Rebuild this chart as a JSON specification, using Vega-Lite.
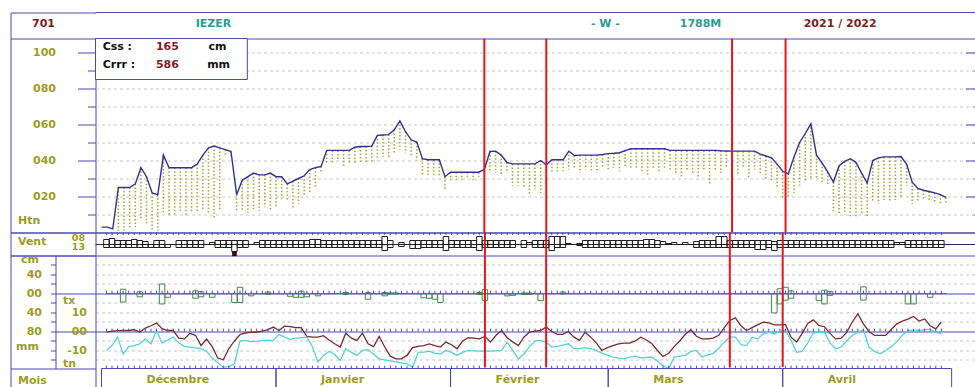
{
  "$schema": "https://vega.github.io/schema/vega-lite/v6.json",
  "background": "white",
  "padding": {"left": 9.5, "top": 11.5, "right": -1, "bottom": -1},
  "bounds": "flush",
  "spacing": 0,
  "config": {
    "font": "DejaVu Sans",
    "view": {"stroke": "#4848b8", "strokeWidth": 1},
    "axis": {
      "labelFont": "DejaVu Sans", "labelFontSize": 11, "labelFontWeight": "bold", "labelColor": "#9c9c24",
      "titleFont": "DejaVu Sans", "titleFontSize": 11, "titleFontWeight": "bold", "titleColor": "#9c9c24",
      "tickColor": "#4848b8", "domainColor": "#4848b8", "grid": false, "labelOverlap": false, "labelFlush": false
    }
  },
  "datasets": {
    "poste": [{"numero": "701", "nom": "IEZER", "exposition": "- W -", "altitude": "1788M", "saison": "2021 / 2022"}],
    "cumuls": [{"css": 165, "crrr": 586}],
    "evenements": [{"j": 68}, {"j": 79}, {"j": 112}, {"j": 121.5}],
    "mois": [
      {"mois": "Décembre", "debut": 0, "fin": 31},
      {"mois": "Janvier", "debut": 31, "fin": 62},
      {"mois": "Février", "debut": 62, "fin": 90},
      {"mois": "Mars", "debut": 90, "fin": 121},
      {"mois": "Avril", "debut": 121, "fin": 151}
    ],
    "jours": [
      {"j":0,"htn":3,"tx":-0.4,"tn":-10,"v08":5,"v13":3},
      {"j":1,"htn":3,"tx":0.2,"tn":-7.4,"v08":6,"v13":3},
      {"j":2,"htn":2,"tx":0.4,"tn":-3,"v08":4,"v13":3},
      {"j":3,"htn":25,"bas":1,"tx":0.5,"tn":-11.8,"v08":4,"v13":3,"hn":9,"rr":18},
      {"j":4,"htn":25,"bas":1,"tx":0.5,"tn":-8,"v08":4,"v13":3},
      {"j":5,"htn":25,"bas":2,"tx":0.9,"tn":-7.4,"v08":5,"v13":3},
      {"j":6,"htn":27,"bas":3,"tx":-0.3,"tn":-6.5,"v08":4,"v13":3,"hn":3.5,"rr":7},
      {"j":7,"htn":36,"bas":7,"tx":1.8,"tn":-3.9,"v08":3,"v13":3},
      {"j":8,"htn":31,"bas":5,"tx":3,"tn":-6.5,"v08":0,"v13":3},
      {"j":9,"htn":22,"bas":1,"tx":4.4,"tn":0.5,"v08":4,"v13":3},
      {"j":10,"htn":21,"bas":1,"tx":1.5,"tn":-6.1,"v08":4,"v13":3,"hn":20,"rr":22},
      {"j":11,"htn":43,"bas":11,"tx":0.5,"tn":-4.5,"v08":0,"v13":3,"hn":0,"rr":8},
      {"j":12,"htn":36,"bas":9,"tx":0.5,"tn":-3,"v08":0,"v13":0},
      {"j":13,"htn":36,"bas":10,"tx":-3.5,"tn":-6,"v08":4,"v13":3},
      {"j":14,"htn":36,"bas":12,"tx":-3.9,"tn":-7.8,"v08":4,"v13":3},
      {"j":15,"htn":36,"bas":9,"tx":-1,"tn":-8.2,"v08":4,"v13":3},
      {"j":16,"htn":36,"bas":11,"tx":-2,"tn":-8.6,"v08":4,"v13":3,"hn":5.5,"rr":10},
      {"j":17,"htn":38,"bas":12,"tx":-7.4,"tn":-9.1,"v08":4,"v13":3,"hn":3.5,"rr":7},
      {"j":18,"htn":43,"bas":13,"tx":-4,"tn":-10.5,"v08":0,"v13":0},
      {"j":19,"htn":47,"bas":11,"tx":-8,"tn":-14,"v08":2,"v13":0,"hn":0,"rr":8},
      {"j":20,"htn":48,"bas":8,"tx":-14,"tn":-16.5,"v08":4,"v13":3},
      {"j":21,"htn":47,"bas":12,"tx":-14.9,"tn":-18.8,"v08":4,"v13":3},
      {"j":22,"htn":46,"bas":42,"tx":-9,"tn":-18.5,"v08":4,"v13":3},
      {"j":23,"htn":45,"bas":42,"tx":-5,"tn":-17,"v08":4,"v13":7,"hn":0,"rr":19,"rafale":1},
      {"j":24,"htn":21,"bas":12,"tx":-1.6,"tn":-5,"v08":4,"v13":3,"hn":13,"rr":19},
      {"j":25,"htn":29,"bas":12,"tx":-0.8,"tn":-4.7,"v08":4,"v13":3},
      {"j":26,"htn":31,"bas":11,"tx":-0.4,"tn":-5.3,"v08":0,"v13":0,"hn":0,"rr":5},
      {"j":27,"htn":33,"bas":13,"tx":-0.4,"tn":-5.2,"v08":2,"v13":0},
      {"j":28,"htn":32,"bas":12,"tx":0.2,"tn":-4.7,"v08":4,"v13":3},
      {"j":29,"htn":32,"bas":14,"tx":1,"tn":-4.7,"v08":4,"v13":3,"hn":3,"rr":2},
      {"j":30,"htn":33,"bas":12,"tx":2.3,"tn":-4.7,"v08":4,"v13":3},
      {"j":31,"htn":31,"bas":14,"tx":0.5,"tn":-1.6,"v08":4,"v13":3},
      {"j":32,"htn":31,"bas":18,"tx":2.8,"tn":-3,"v08":4,"v13":3},
      {"j":33,"htn":27,"bas":18,"tx":2.5,"tn":-4.2,"v08":4,"v13":3,"hn":0,"rr":6},
      {"j":34,"htn":28.5,"bas":14,"tx":2,"tn":-3.5,"v08":4,"v13":3,"hn":0,"rr":8},
      {"j":35,"htn":30,"bas":16,"tx":2,"tn":-3.3,"v08":4,"v13":3,"hn":5,"rr":8},
      {"j":36,"htn":31.5,"bas":20,"tx":-2.6,"tn":-3,"v08":4,"v13":3,"hn":0,"rr":7},
      {"j":37,"htn":35,"bas":22,"tx":-3,"tn":-8,"v08":5,"v13":3},
      {"j":38,"htn":36,"bas":25,"tx":-3,"tn":-16.1,"v08":5,"v13":3,"hn":0,"rr":5},
      {"j":39,"htn":36.7,"bas":33,"tx":-2.2,"tn":-12.6,"v08":4,"v13":3},
      {"j":40,"htn":45.6,"bas":38,"tx":-4.5,"tn":-10.5,"v08":4,"v13":3},
      {"j":41,"htn":45.6,"bas":38,"tx":-6.5,"tn":-12,"v08":4,"v13":3},
      {"j":42,"htn":45.6,"bas":40,"tx":-8.2,"tn":-15.3,"v08":4,"v13":3},
      {"j":43,"htn":45.6,"bas":37,"tx":-0.9,"tn":-9.1,"v08":4,"v13":3,"hn":2,"rr":2},
      {"j":44,"htn":45.6,"bas":38,"tx":-3.5,"tn":-11,"v08":4,"v13":3},
      {"j":45,"htn":47.4,"bas":38,"tx":-4.7,"tn":-12.6,"v08":4,"v13":3},
      {"j":46,"htn":47.8,"bas":39,"tx":-0.9,"tn":-10,"v08":4,"v13":3},
      {"j":47,"htn":47.8,"bas":38,"tx":-6.5,"tn":-9.6,"v08":4,"v13":3,"hn":2,"rr":12},
      {"j":48,"htn":48,"bas":39,"tx":-8,"tn":-12,"v08":4,"v13":3},
      {"j":49,"htn":54,"bas":40,"tx":-2.6,"tn":-14.4,"v08":4,"v13":3},
      {"j":50,"htn":54.2,"bas":42,"tx":-8.2,"tn":-15,"v08":8,"v13":6,"hn":2,"rr":5},
      {"j":51,"htn":54.4,"bas":41,"tx":-13,"tn":-15.5,"v08":4,"v13":3,"hn":1,"rr":1},
      {"j":52,"htn":57,"bas":44,"tx":-14.4,"tn":-16,"v08":0,"v13":0,"hn":1,"rr":1},
      {"j":53,"htn":62,"bas":46,"tx":-14.4,"tn":-16.5,"v08":2,"v13":2},
      {"j":54,"htn":56,"bas":44,"tx":-12.6,"tn":-17,"v08":0,"v13":0},
      {"j":55,"htn":51.5,"bas":42,"tx":-8.5,"tn":-18.8,"v08":4,"v13":4},
      {"j":56,"htn":50.2,"bas":40,"tx":-7.8,"tn":-11,"v08":4,"v13":4},
      {"j":57,"htn":41,"bas":32,"tx":-7.4,"tn":-10.9,"v08":4,"v13":3,"hn":0,"rr":9},
      {"j":58,"htn":40.4,"bas":32,"tx":-6.5,"tn":-10.4,"v08":4,"v13":3,"hn":0,"rr":10},
      {"j":59,"htn":40.4,"bas":31,"tx":-7.5,"tn":-11.5,"v08":4,"v13":3,"hn":0,"rr":12},
      {"j":60,"htn":40.4,"bas":31,"tx":-8.2,"tn":-11.8,"v08":4,"v13":3,"hn":0,"rr":19},
      {"j":61,"htn":31,"bas":24,"tx":-5.6,"tn":-10,"v08":8,"v13":6},
      {"j":62,"htn":33.5,"bas":29,"tx":-7,"tn":-11,"v08":4,"v13":3},
      {"j":63,"htn":33.5,"bas":29,"tx":-9.1,"tn":-12.6,"v08":4,"v13":3},
      {"j":64,"htn":33.5,"bas":29,"tx":-5,"tn":-11,"v08":4,"v13":3},
      {"j":65,"htn":33.5,"bas":30,"tx":-3.3,"tn":-10,"v08":4,"v13":3},
      {"j":66,"htn":33.5,"bas":29,"tx":-3.5,"tn":-10.2,"v08":4,"v13":3},
      {"j":67,"htn":33.5,"bas":31,"tx":-3.9,"tn":-10.4,"v08":8,"v13":6,"hn":2,"rr":2},
      {"j":68,"htn":35,"bas":31,"tx":-2.6,"tn":-10.4,"v08":4,"v13":3,"hn":8,"rr":15},
      {"j":69,"htn":45,"bas":33,"tx":-5.6,"tn":-10.4,"v08":4,"v13":3},
      {"j":70,"htn":45.2,"bas":33,"tx":-2,"tn":-10.2,"v08":4,"v13":3},
      {"j":71,"htn":43,"bas":32,"tx":0.5,"tn":-10,"v08":4,"v13":3},
      {"j":72,"htn":39,"bas":33,"tx":-3.3,"tn":-5.6,"v08":4,"v13":3,"hn":0,"rr":5},
      {"j":73,"htn":38.1,"bas":26,"tx":-5.5,"tn":-10,"v08":4,"v13":3,"hn":0,"rr":4},
      {"j":74,"htn":38.1,"bas":26,"tx":-7.4,"tn":-14.4,"v08":0,"v13":0},
      {"j":75,"htn":38.1,"bas":25,"tx":-3,"tn":-12,"v08":4,"v13":3,"hn":1,"rr":2},
      {"j":76,"htn":38.1,"bas":21,"tx":-0.4,"tn":-8,"v08":2,"v13":0,"hn":1,"rr":2},
      {"j":77,"htn":38.1,"bas":24,"tx":0.2,"tn":-5,"v08":4,"v13":3},
      {"j":78,"htn":40,"bas":22,"tx":0.5,"tn":-4.7,"v08":4,"v13":3,"hn":0,"rr":15},
      {"j":79,"htn":37.6,"bas":26,"tx":2.3,"tn":-5.6,"v08":4,"v13":3},
      {"j":80,"htn":40.4,"bas":33,"tx":0,"tn":-8.2,"v08":8,"v13":6},
      {"j":81,"htn":40.4,"bas":33,"tx":-1.5,"tn":-7.8,"v08":8,"v13":3},
      {"j":82,"htn":40.4,"bas":34,"tx":-1.5,"tn":-7.2,"v08":8,"v13":3,"hn":3,"rr":1},
      {"j":83,"htn":45.2,"bas":35,"tx":0,"tn":-6.5,"v08":1,"v13":0},
      {"j":84,"htn":42.8,"bas":36,"tx":-3,"tn":-9,"v08":0,"v13":0},
      {"j":85,"htn":43,"bas":33,"tx":-4.7,"tn":-9,"v08":1,"v13":1},
      {"j":86,"htn":43,"bas":35,"tx":-0.4,"tn":-8.5,"v08":4,"v13":3},
      {"j":87,"htn":43,"bas":34,"tx":-3,"tn":-9.1,"v08":4,"v13":3},
      {"j":88,"htn":43,"bas":33,"tx":-6,"tn":-10,"v08":4,"v13":3},
      {"j":89,"htn":43.3,"bas":36,"tx":-10,"tn":-11.4,"v08":4,"v13":3},
      {"j":90,"htn":43.8,"bas":35,"tx":-8.5,"tn":-12.5,"v08":4,"v13":3},
      {"j":91,"htn":44,"bas":36,"tx":-7.4,"tn":-13.5,"v08":4,"v13":3},
      {"j":92,"htn":44.3,"bas":34,"tx":-6.5,"tn":-14,"v08":4,"v13":3},
      {"j":93,"htn":45.5,"bas":37,"tx":-6.1,"tn":-14.4,"v08":4,"v13":3},
      {"j":94,"htn":46.5,"bas":36,"tx":-6.1,"tn":-13.5,"v08":4,"v13":3},
      {"j":95,"htn":46.5,"bas":35,"tx":-5,"tn":-13,"v08":4,"v13":3},
      {"j":96,"htn":46.5,"bas":34,"tx":-3,"tn":-13.9,"v08":4,"v13":3},
      {"j":97,"htn":46.5,"bas":32,"tx":-4.5,"tn":-13.7,"v08":5,"v13":3},
      {"j":98,"htn":46.5,"bas":36,"tx":-6.5,"tn":-13.5,"v08":5,"v13":3},
      {"j":99,"htn":46.5,"bas":33,"tx":-10,"tn":-15.5,"v08":4,"v13":3},
      {"j":100,"htn":46.5,"bas":35,"tx":-13.2,"tn":-18,"v08":3,"v13":0},
      {"j":101,"htn":45.6,"bas":34,"tx":-11.5,"tn":-19.5,"v08":1,"v13":0},
      {"j":102,"htn":45.6,"bas":32,"tx":-8,"tn":-13.5,"v08":2,"v13":0},
      {"j":103,"htn":45.6,"bas":31,"tx":-5,"tn":-13,"v08":0,"v13":0},
      {"j":104,"htn":45.6,"bas":35,"tx":-1.5,"tn":-12.6,"v08":2,"v13":0},
      {"j":105,"htn":45.6,"bas":33,"tx":0.9,"tn":-10.5,"v08":0,"v13":0},
      {"j":106,"htn":45.6,"bas":30,"tx":-2.5,"tn":-10,"v08":3,"v13":3},
      {"j":107,"htn":45.6,"bas":34,"tx":-3.9,"tn":-13.5,"v08":4,"v13":3},
      {"j":108,"htn":45.6,"bas":27,"tx":-3.9,"tn":-12.5,"v08":4,"v13":3},
      {"j":109,"htn":45.6,"bas":35,"tx":-3.5,"tn":-11.5,"v08":4,"v13":3},
      {"j":110,"htn":45.4,"bas":33,"tx":-2,"tn":-9,"v08":8,"v13":3},
      {"j":111,"htn":45.3,"bas":36,"tx":2,"tn":-5.5,"v08":8,"v13":3},
      {"j":112,"htn":45.2,"bas":24,"tx":5.8,"tn":-3,"v08":4,"v13":3},
      {"j":113,"htn":45.2,"bas":32,"tx":7.2,"tn":-3,"v08":4,"v13":3},
      {"j":114,"htn":45.2,"bas":36,"tx":3,"tn":-7,"v08":4,"v13":3},
      {"j":115,"htn":45.2,"bas":30,"tx":0.5,"tn":-7.4,"v08":4,"v13":3},
      {"j":116,"htn":45.2,"bas":35,"tx":2,"tn":-3,"v08":4,"v13":3},
      {"j":117,"htn":43.5,"bas":33,"tx":3.5,"tn":-3.9,"v08":4,"v13":5},
      {"j":118,"htn":42.5,"bas":30,"tx":4.9,"tn":-1.3,"v08":4,"v13":5},
      {"j":119,"htn":41.5,"bas":29,"tx":4.5,"tn":-0.4,"v08":4,"v13":3},
      {"j":120,"htn":38,"bas":25,"tx":3.5,"tn":-1.3,"v08":3,"v13":6,"hn":0,"rr":41},
      {"j":121,"htn":34,"bas":19,"tx":3.5,"tn":0,"v08":4,"v13":3,"hn":10,"rr":22},
      {"j":122,"htn":32.6,"bas":20,"tx":3.7,"tn":0.5,"v08":4,"v13":3,"hn":13,"rr":14},
      {"j":123,"htn":42,"bas":22,"tx":-3,"tn":-4.7,"v08":4,"v13":3,"hn":5.5,"rr":10},
      {"j":124,"htn":50,"bas":26,"tx":-5.6,"tn":-11,"v08":4,"v13":3},
      {"j":125,"htn":55,"bas":29,"tx":-1,"tn":-10.5,"v08":4,"v13":3},
      {"j":126,"htn":60.4,"bas":30,"tx":4.2,"tn":-6,"v08":4,"v13":3},
      {"j":127,"htn":43,"bas":30,"tx":6.1,"tn":-0.8,"v08":4,"v13":3},
      {"j":128,"htn":38.5,"bas":28,"tx":3.2,"tn":-0.4,"v08":4,"v13":3,"hn":0,"rr":15},
      {"j":129,"htn":33.5,"bas":27,"tx":2.5,"tn":-0.4,"v08":4,"v13":3,"hn":7,"rr":22},
      {"j":130,"htn":28,"bas":12,"tx":-1,"tn":-6,"v08":4,"v13":3,"hn":4,"rr":4},
      {"j":131,"htn":37,"bas":10,"tx":-3.9,"tn":-9.1,"v08":4,"v13":3},
      {"j":132,"htn":39.5,"bas":10,"tx":-3.5,"tn":-8.2,"v08":4,"v13":3},
      {"j":133,"htn":41,"bas":8,"tx":-0.5,"tn":-5,"v08":4,"v13":3},
      {"j":134,"htn":39,"bas":9,"tx":5,"tn":-2,"v08":4,"v13":3},
      {"j":135,"htn":33,"bas":10,"tx":9.3,"tn":-0.5,"v08":4,"v13":3},
      {"j":136,"htn":27.5,"bas":8,"tx":4,"tn":0.9,"v08":4,"v13":3,"hn":14,"rr":14},
      {"j":137,"htn":40,"bas":17,"tx":0,"tn":-8.2,"v08":4,"v13":3},
      {"j":138,"htn":41.5,"bas":16,"tx":-2.1,"tn":-10.5,"v08":4,"v13":3},
      {"j":139,"htn":42,"bas":18,"tx":-2.1,"tn":-11.8,"v08":4,"v13":3},
      {"j":140,"htn":42,"bas":17,"tx":-2.1,"tn":-10,"v08":4,"v13":3},
      {"j":141,"htn":42,"bas":18,"tx":1,"tn":-8,"v08":4,"v13":3},
      {"j":142,"htn":42.2,"bas":20,"tx":4,"tn":-5.5,"v08":2,"v13":0},
      {"j":143,"htn":38,"bas":26,"tx":5.5,"tn":-2,"v08":2,"v13":0},
      {"j":144,"htn":28,"bas":16,"tx":6.5,"tn":0.5,"v08":4,"v13":3,"hn":0,"rr":22},
      {"j":145,"htn":24.5,"bas":17,"tx":7.9,"tn":0.5,"v08":4,"v13":3,"hn":0,"rr":22},
      {"j":146,"htn":23.5,"bas":18,"tx":5.5,"tn":0.5,"v08":4,"v13":3},
      {"j":147,"htn":22.8,"bas":17,"tx":6.6,"tn":1,"v08":4,"v13":3},
      {"j":148,"htn":22,"bas":16,"tx":3,"tn":1.2,"v08":4,"v13":3,"hn":0,"rr":8},
      {"j":149,"htn":21,"bas":16,"tx":1.4,"tn":-0.4,"v08":4,"v13":3},
      {"j":150,"htn":19.5,"bas":16,"tx":5,"tn":-1.3,"v08":4,"v13":3}
    ]
  },
  "resolve": {"scale": {"x": "independent", "y": "independent"}},
  "vconcat": [
    {
      "width": 880, "height": 26,
      "data": {"name": "poste"},
      "view": {"stroke": null},
      "resolve": {"axis": {"y": "independent"}},
      "layer": [
        {
          "data": {"values": [{}]},
          "mark": {"type": "rule", "color": "#4848b8"},
          "encoding": {
            "y": {"datum": 1, "type": "quantitative", "scale": {"domain": [-1, 1], "nice": false},
                  "axis": {"orient": "left", "values": [1], "domain": false, "ticks": true, "tickSize": 85, "labels": false, "title": null}}
          }
        },
        {
          "mark": {"type": "text", "fontWeight": "bold", "fontSize": 11, "color": "#7a1e1e"},
          "encoding": {
            "x": {"datum": -10.3, "type": "quantitative", "scale": {"domain": [-1.066, 155.24], "nice": false, "zero": false}, "axis": null},
            "y": {"datum": 0.15, "type": "quantitative", "scale": {"domain": [-1, 1], "nice": false},
                  "axis": {"orient": "left", "offset": 85, "domain": true, "ticks": false, "labels": false, "title": null}},
            "text": {"field": "numero"}
          }
        },
        {
          "mark": {"type": "text", "fontWeight": "bold", "fontSize": 11, "color": "#2a9d8f"},
          "encoding": {
            "x": {"datum": 19.9, "type": "quantitative", "scale": {"domain": [-1.066, 155.24], "nice": false, "zero": false}, "axis": null},
            "y": {"datum": 0.15, "type": "quantitative", "scale": {"domain": [-1, 1], "nice": false}, "axis": null},
            "text": {"field": "nom"}
          }
        },
        {
          "mark": {"type": "text", "fontWeight": "bold", "fontSize": 11, "color": "#2a9d8f"},
          "encoding": {
            "x": {"datum": 89.5, "type": "quantitative", "scale": {"domain": [-1.066, 155.24], "nice": false, "zero": false}, "axis": null},
            "y": {"datum": 0.15, "type": "quantitative", "scale": {"domain": [-1, 1], "nice": false}, "axis": null},
            "text": {"field": "exposition"}
          }
        },
        {
          "mark": {"type": "text", "fontWeight": "bold", "fontSize": 11, "color": "#2a9d8f"},
          "encoding": {
            "x": {"datum": 106.4, "type": "quantitative", "scale": {"domain": [-1.066, 155.24], "nice": false, "zero": false}, "axis": null},
            "y": {"datum": 0.15, "type": "quantitative", "scale": {"domain": [-1, 1], "nice": false}, "axis": null},
            "text": {"field": "altitude"}
          }
        },
        {
          "mark": {"type": "text", "fontWeight": "bold", "fontSize": 11, "color": "#7a1e1e"},
          "encoding": {
            "x": {"datum": 131.2, "type": "quantitative", "scale": {"domain": [-1.066, 155.24], "nice": false, "zero": false}, "axis": null},
            "y": {"datum": 0.15, "type": "quantitative", "scale": {"domain": [-1, 1], "nice": false}, "axis": null},
            "text": {"field": "saison"}
          }
        }
      ]
    },
    {
      "width": 880, "height": 194,
      "data": {"name": "jours"},
      "resolve": {"axis": {"y": "independent"}},
      "layer": [
        {
          "transform": [{"filter": "isValid(datum.bas)"}],
          "mark": {"type": "rule", "color": "#a8a83a", "strokeWidth": 1.6, "strokeDash": [1.5, 2]},
          "encoding": {
            "x": {"field": "j", "type": "quantitative", "scale": {"domain": [-1.066, 155.24], "nice": false, "zero": false}, "axis": null},
            "y": {"field": "htn", "type": "quantitative", "scale": {"domain": [0, 107.78], "nice": false, "zero": false},
                  "axis": {"orient": "left", "offset": 85, "domain": true, "ticks": false, "labels": false, "title": null}},
            "y2": {"field": "bas"}
          }
        },
        {
          "mark": {"type": "line", "color": "#30309a", "strokeWidth": 1.4},
          "encoding": {
            "x": {"field": "j", "type": "quantitative", "scale": {"domain": [-1.066, 155.24], "nice": false, "zero": false}, "axis": null},
            "y": {"field": "htn", "type": "quantitative", "scale": {"domain": [0, 107.78], "nice": false, "zero": false},
                  "axis": {
                    "orient": "left", "values": [0, 10, 20, 30, 40, 50, 60, 70, 80, 90, 100, 107.78],
                    "domain": false, "ticks": true,
                    "tickSize": {"condition": [{"test": "datum.value == 0 || datum.value > 101", "value": 85}, {"test": "datum.value % 20 == 0", "value": 18}], "value": 8},
                    "labelExpr": "datum.value == 100 ? '100' : (datum.value > 0 && datum.value < 100 && datum.value % 20 == 0 ? '0' + datum.value : '')",
                    "labelPadding": {"condition": [{"test": "datum.value == 0 || datum.value > 101", "value": -80}, {"test": "datum.value % 20 != 0", "value": 32}], "value": 22},
                    "grid": true, "gridColor": "#c6c6c6", "gridDash": [3, 3],
                    "gridOpacity": {"condition": {"test": "datum.value == 0 || datum.value > 101", "value": 0}, "value": 1},
                    "title": "Htn", "titleAngle": 0, "titleAlign": "left", "titleBaseline": "middle", "titleX": -78, "titleY": 182
                  }}
          }
        },
        {
          "data": {"name": "cumuls"},
          "mark": {"type": "rect", "fill": "white", "stroke": "#4848b8", "strokeWidth": 1},
          "encoding": {
            "x": {"datum": -1.066, "type": "quantitative", "scale": {"domain": [-1.066, 155.24], "nice": false, "zero": false}, "axis": null},
            "x2": {"datum": 25.9},
            "y": {"datum": 107.78, "type": "quantitative", "scale": {"domain": [0, 107.78], "nice": false, "zero": false},
                  "axis": {"orient": "right", "values": [10, 20, 30, 40, 50, 60, 70, 80, 90, 100], "domain": false, "labels": false, "ticks": true,
                           "tickSize": {"condition": {"test": "datum.value % 20 == 0", "value": -10}, "value": -2}, "title": null}},
            "y2": {"datum": 85}
          }
        },
        {
          "data": {"name": "cumuls"},
          "mark": {"type": "text", "align": "left", "fontWeight": "bold", "fontSize": 11, "color": "#111111", "text": "Css :"},
          "encoding": {
            "x": {"datum": 0.2, "type": "quantitative", "scale": {"domain": [-1.066, 155.24], "nice": false, "zero": false}, "axis": null},
            "y": {"datum": 102.8, "type": "quantitative", "scale": {"domain": [0, 107.78], "nice": false, "zero": false}, "axis": null}
          }
        },
        {
          "data": {"name": "cumuls"},
          "mark": {"type": "text", "fontWeight": "bold", "fontSize": 11, "color": "#7a1e1e"},
          "encoding": {
            "x": {"datum": 11.7, "type": "quantitative", "scale": {"domain": [-1.066, 155.24], "nice": false, "zero": false}, "axis": null},
            "y": {"datum": 102.8, "type": "quantitative", "scale": {"domain": [0, 107.78], "nice": false, "zero": false}, "axis": null},
            "text": {"field": "css"}
          }
        },
        {
          "data": {"name": "cumuls"},
          "mark": {"type": "text", "fontWeight": "bold", "fontSize": 11, "color": "#111111", "text": "cm"},
          "encoding": {
            "x": {"datum": 20.6, "type": "quantitative", "scale": {"domain": [-1.066, 155.24], "nice": false, "zero": false}, "axis": null},
            "y": {"datum": 102.8, "type": "quantitative", "scale": {"domain": [0, 107.78], "nice": false, "zero": false}, "axis": null}
          }
        },
        {
          "data": {"name": "cumuls"},
          "mark": {"type": "text", "align": "left", "fontWeight": "bold", "fontSize": 11, "color": "#111111", "text": "Crrr :"},
          "encoding": {
            "x": {"datum": 0.2, "type": "quantitative", "scale": {"domain": [-1.066, 155.24], "nice": false, "zero": false}, "axis": null},
            "y": {"datum": 92.8, "type": "quantitative", "scale": {"domain": [0, 107.78], "nice": false, "zero": false}, "axis": null}
          }
        },
        {
          "data": {"name": "cumuls"},
          "mark": {"type": "text", "fontWeight": "bold", "fontSize": 11, "color": "#7a1e1e"},
          "encoding": {
            "x": {"datum": 11.7, "type": "quantitative", "scale": {"domain": [-1.066, 155.24], "nice": false, "zero": false}, "axis": null},
            "y": {"datum": 92.8, "type": "quantitative", "scale": {"domain": [0, 107.78], "nice": false, "zero": false}, "axis": null},
            "text": {"field": "crrr"}
          }
        },
        {
          "data": {"name": "cumuls"},
          "mark": {"type": "text", "fontWeight": "bold", "fontSize": 11, "color": "#111111", "text": "mm"},
          "encoding": {
            "x": {"datum": 20.8, "type": "quantitative", "scale": {"domain": [-1.066, 155.24], "nice": false, "zero": false}, "axis": null},
            "y": {"datum": 92.8, "type": "quantitative", "scale": {"domain": [0, 107.78], "nice": false, "zero": false}, "axis": null}
          }
        },
        {
          "data": {"name": "evenements"},
          "mark": {"type": "rule", "color": "#e8141a", "strokeWidth": 2},
          "encoding": {
            "x": {"field": "j", "type": "quantitative", "scale": {"domain": [-1.066, 155.24], "nice": false, "zero": false}, "axis": null}
          }
        }
      ]
    },
    {
      "width": 880, "height": 23,
      "data": {"name": "jours"},
      "resolve": {"scale": {"y": "independent"}},
      "layer": [
        {
          "data": {"values": [{}]},
          "mark": {"type": "rule", "color": "#2c2c5c"},
          "encoding": {
            "y": {"datum": 0, "type": "quantitative", "scale": {"domain": [-11, 12], "nice": false, "zero": false},
                  "axis": {
                    "orient": "left", "values": [12, 7.3, -2.3, -11], "domain": false, "ticks": true,
                    "tickSize": {"condition": {"test": "datum.value == 12 || datum.value == -11", "value": 85}, "value": 0},
                    "labelExpr": "datum.value == 7.3 ? '08' : (datum.value == -2.3 ? '13' : '')",
                    "labelFontSize": 9.5,
                    "labelPadding": {"condition": {"test": "datum.value == 12 || datum.value == -11", "value": -80}, "value": 11},
                    "title": "Vent", "titleAngle": 0, "titleAlign": "left", "titleBaseline": "middle", "titleX": -78, "titleY": 9
                  }}
          }
        },
        {
          "mark": {"type": "bar", "orient": "vertical", "width": 5.5, "fill": "transparent", "stroke": "#1e1e1e", "strokeWidth": 1},
          "encoding": {
            "x": {"field": "j", "type": "quantitative", "scale": {"domain": [-1.066, 155.24], "nice": false, "zero": false}, "axis": null},
            "y": {"field": "v08", "type": "quantitative", "scale": {"domain": [-11, 12], "nice": false},
                  "axis": {"orient": "left", "offset": 85, "domain": true, "ticks": false, "labels": false, "title": null}}
          }
        },
        {
          "mark": {"type": "bar", "orient": "vertical", "width": 5.5, "fill": "transparent", "stroke": "#1e1e1e", "strokeWidth": 1},
          "encoding": {
            "x": {"field": "j", "type": "quantitative", "scale": {"domain": [-1.066, 155.24], "nice": false, "zero": false}, "axis": null},
            "y": {"field": "v13", "type": "quantitative", "scale": {"domain": [-12, 11], "nice": false, "reverse": true}, "axis": null}
          }
        },
        {
          "mark": {"type": "rule", "color": "#4848b8"},
          "encoding": {
            "x": {"field": "j", "type": "quantitative", "scale": {"domain": [-1.066, 155.24], "nice": false, "zero": false}, "axis": null},
            "y": {"datum": 12, "type": "quantitative", "scale": {"domain": [-11, 12], "nice": false, "zero": false}, "axis": null},
            "y2": {"datum": 9.5}
          }
        },
        {
          "transform": [{"filter": "datum.rafale == 1"}],
          "mark": {"type": "square", "size": 22, "filled": true, "color": "#3a0c0c", "opacity": 1},
          "encoding": {
            "x": {"field": "j", "type": "quantitative", "scale": {"domain": [-1.066, 155.24], "nice": false, "zero": false}, "axis": null},
            "y": {"datum": -9.3, "type": "quantitative", "scale": {"domain": [-11, 12], "nice": false, "zero": false}, "axis": null}
          }
        },
        {
          "data": {"name": "evenements"},
          "mark": {"type": "rule", "color": "#e8141a", "strokeWidth": 2},
          "encoding": {
            "x": {"field": "j", "type": "quantitative", "scale": {"domain": [-1.066, 155.24], "nice": false, "zero": false}, "axis": null}
          }
        }
      ]
    },
    {
      "width": 880, "height": 113,
      "data": {"name": "jours"},
      "view": {"stroke": null},
      "resolve": {"scale": {"y": "independent"}},
      "layer": [
        {
          "mark": {"type": "line", "color": "#7d2a2a", "strokeWidth": 1.3},
          "encoding": {
            "x": {"field": "j", "type": "quantitative", "scale": {"domain": [-1.066, 155.24], "nice": false, "zero": false}, "axis": null},
            "y": {"field": "tx", "type": "quantitative", "scale": {"domain": [-19.5, 40], "nice": false, "zero": false},
                  "axis": {
                    "orient": "left", "values": [-19.5, -15, -10, -5, 0, 5, 10, 15, 20, 25, 30, 35, 40, 16.3, -16.7],
                    "domain": true, "ticks": true,
                    "tickSize": {"condition": {"test": "datum.value == 40 || datum.value == -19.5 || datum.value == 0 || datum.value == 20", "value": 40}, "value": 0},
                    "labelExpr": "datum.value == 10 ? '10' : datum.value == 0 ? '00' : datum.value == -10 ? '-10' : datum.value == 16.3 ? 'tx' : datum.value == -16.7 ? 'tn' : ''",
                    "labelAlign": {"condition": {"test": "datum.value == 16.3 || datum.value == -16.7", "value": "left"}, "value": "right"},
                    "labelPadding": {"condition": [{"test": "datum.value == 0 || datum.value == 20 || datum.value == 40 || datum.value == -19.5", "value": -31}, {"test": "datum.value == 16.3 || datum.value == -16.7", "value": 33}], "value": 9},
                    "grid": true,
                    "gridColor": {"condition": {"test": "datum.value == 0 || datum.value == 20", "value": "#4848b8"}, "value": "#c6c6c6"},
                    "gridDash": {"condition": {"test": "datum.value == 0 || datum.value == 20", "value": []}, "value": [3, 3]},
                    "gridOpacity": {"condition": {"test": "datum.value == 40 || datum.value == -19.5 || datum.value == 16.3 || datum.value == -16.7", "value": 0}, "value": 1},
                    "title": null
                  }}
          }
        },
        {
          "mark": {"type": "line", "color": "#52d2da", "strokeWidth": 1.3},
          "encoding": {
            "x": {"field": "j", "type": "quantitative", "scale": {"domain": [-1.066, 155.24], "nice": false, "zero": false}, "axis": null},
            "y": {"field": "tn", "type": "quantitative", "scale": {"domain": [-19.5, 40], "nice": false, "zero": false},
                  "axis": {
                    "orient": "left", "offset": 40, "values": [-19.5, -15, -10, -5, 0, 5, 10, 15, 20, 25, 30, 35, 40, 37.9, -7.9],
                    "domain": true, "ticks": true,
                    "tickSize": {"condition": [{"test": "datum.value == 40 || datum.value == -19.5", "value": 45}, {"test": "datum.value % 5 == 0", "value": 5}], "value": 0},
                    "labelExpr": "datum.value == 37.9 ? 'cm' : datum.value == 30 ? '40' : datum.value == 20 ? '00' : datum.value == 10 ? '40' : datum.value == 0 ? '80' : datum.value == -7.9 ? 'mm' : ''",
                    "labelPadding": {"condition": [{"test": "datum.value == 40 || datum.value == -19.5", "value": -40}, {"test": "datum.value == 37.9 || datum.value == -7.9", "value": 17}], "value": 9},
                    "title": null
                  }}
          }
        },
        {
          "transform": [{"filter": "isValid(datum.hn)"}],
          "mark": {"type": "bar", "orient": "vertical", "width": 5.5, "fill": "transparent", "stroke": "#3d8c3d", "strokeWidth": 1},
          "encoding": {
            "x": {"field": "j", "type": "quantitative", "scale": {"domain": [-1.066, 155.24], "nice": false, "zero": false}, "axis": null},
            "y": {"field": "hn", "type": "quantitative", "scale": {"domain": [-158, 80], "nice": false}, "axis": null}
          }
        },
        {
          "transform": [{"filter": "isValid(datum.rr)"}],
          "mark": {"type": "bar", "orient": "vertical", "width": 5.5, "fill": "transparent", "stroke": "#3d8c3d", "strokeWidth": 1},
          "encoding": {
            "x": {"field": "j", "type": "quantitative", "scale": {"domain": [-1.066, 155.24], "nice": false, "zero": false}, "axis": null},
            "y": {"field": "rr", "type": "quantitative", "scale": {"domain": [-80, 158], "nice": false, "reverse": true}, "axis": null}
          }
        },
        {
          "data": {"name": "mois"},
          "mark": {"type": "rule", "color": "#3d8c3d", "strokeWidth": 1.2},
          "encoding": {
            "x": {"field": "debut", "type": "quantitative", "scale": {"domain": [-1.066, 155.24], "nice": false, "zero": false}, "axis": null},
            "x2": {"field": "fin"},
            "y": {"datum": 20, "type": "quantitative", "scale": {"domain": [-19.5, 40], "nice": false, "zero": false},
                  "axis": {"orient": "left", "offset": 85, "domain": true, "ticks": false, "labels": false, "title": null}}
          }
        },
        {
          "mark": {"type": "rule", "color": "#4848b8"},
          "encoding": {
            "x": {"field": "j", "type": "quantitative", "scale": {"domain": [-1.066, 155.24], "nice": false, "zero": false}, "axis": null},
            "y": {"datum": 20, "type": "quantitative", "scale": {"domain": [-19.5, 40], "nice": false, "zero": false}, "axis": null},
            "y2": {"datum": 21.5}
          }
        },
        {
          "mark": {"type": "rule", "color": "#4848b8"},
          "encoding": {
            "x": {"field": "j", "type": "quantitative", "scale": {"domain": [-1.066, 155.24], "nice": false, "zero": false}, "axis": null},
            "y": {"datum": 0, "type": "quantitative", "scale": {"domain": [-19.5, 40], "nice": false, "zero": false}, "axis": null},
            "y2": {"datum": 1.5}
          }
        },
        {
          "mark": {"type": "rule", "color": "#4848b8"},
          "encoding": {
            "x": {"field": "j", "type": "quantitative", "scale": {"domain": [-1.066, 155.24], "nice": false, "zero": false}, "axis": null},
            "y": {"datum": -19.5, "type": "quantitative", "scale": {"domain": [-19.5, 40], "nice": false, "zero": false}, "axis": null},
            "y2": {"datum": -18}
          }
        },
        {
          "data": {"name": "evenements"},
          "mark": {"type": "rule", "color": "#e8141a", "strokeWidth": 2},
          "encoding": {
            "x": {"field": "j", "type": "quantitative", "scale": {"domain": [-1.066, 155.24], "nice": false, "zero": false}, "axis": null},
            "y": {"datum": 40, "type": "quantitative", "scale": {"domain": [-19.5, 40], "nice": false, "zero": false}, "axis": null},
            "y2": {"datum": -18.7}
          }
        }
      ]
    },
    {
      "width": 880, "height": 19,
      "data": {"name": "mois"},
      "view": {"stroke": null},
      "resolve": {"axis": {"y": "independent"}},
      "layer": [
        {
          "mark": {"type": "rule", "color": "#4848b8"},
          "encoding": {
            "x": {"field": "debut", "type": "quantitative", "scale": {"domain": [-1.066, 155.24], "nice": false, "zero": false}, "axis": null}
          }
        },
        {
          "mark": {"type": "rule", "color": "#4848b8"},
          "encoding": {
            "x": {"field": "fin", "type": "quantitative", "scale": {"domain": [-1.066, 155.24], "nice": false, "zero": false}, "axis": null}
          }
        },
        {
          "mark": {"type": "rule", "color": "#4848b8"},
          "encoding": {
            "x": {"field": "debut", "type": "quantitative", "scale": {"domain": [-1.066, 155.24], "nice": false, "zero": false}, "axis": null},
            "x2": {"field": "fin"},
            "y": {"datum": 1, "type": "quantitative", "scale": {"domain": [0, 1], "nice": false, "zero": false},
                  "axis": {"orient": "left", "offset": 85, "domain": true, "ticks": false, "labels": false, "title": null}}
          }
        },
        {
          "mark": {"type": "text", "align": "left", "dx": 45, "fontWeight": "bold", "fontSize": 11, "color": "#9c9c24"},
          "encoding": {
            "x": {"field": "debut", "type": "quantitative", "scale": {"domain": [-1.066, 155.24], "nice": false, "zero": false}, "axis": null},
            "y": {"datum": 0.37, "type": "quantitative", "scale": {"domain": [0, 1], "nice": false, "zero": false},
                  "axis": {"orient": "left", "domain": true, "ticks": false, "labels": false,
                           "title": "Mois", "titleAngle": 0, "titleAlign": "left", "titleBaseline": "middle", "titleX": -78, "titleY": 12}},
            "text": {"field": "mois"}
          }
        }
      ]
    }
  ]
}
